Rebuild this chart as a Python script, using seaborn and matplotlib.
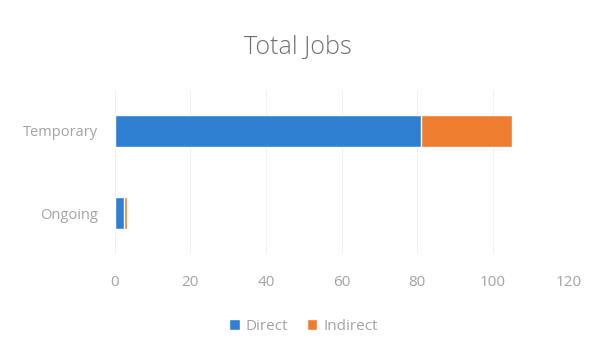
import matplotlib
matplotlib.use("Agg")
import matplotlib.pyplot as plt
import seaborn as sns
import pandas as pd

categories = ["Temporary", "Ongoing"]
direct = [81, 2.4]
indirect = [24, 0.8]
xticks = [0, 20, 40, 60, 80, 100, 120]

sns.set_style("white")
plt.rcParams['font.family'] = ['Open Sans', 'DejaVu Sans']

blue = "#2f7fd2"
orange = "#ee7d30"
grey = "#a6a6a6"

df = pd.DataFrame({"cat": categories, "direct": direct,
                   "total": [d + i for d, i in zip(direct, indirect)]})

fig = plt.figure(figsize=(5.95, 3.58), dpi=100)
ax = fig.add_axes([0.193, 0.29, 0.762, 0.459])

sns.barplot(data=df, y="cat", x="total", color=orange, width=0.39,
            orient="h", ax=ax, saturation=1, label="Indirect")
sns.barplot(data=df, y="cat", x="direct", color=blue, width=0.39,
            orient="h", ax=ax, saturation=1, label="Direct")

ax.set_xlim(0, 120)
ax.set_ylim(1.5, -0.5)
ax.set_xticks(xticks)
ax.set_xlabel("")
ax.set_ylabel("")
ax.grid(axis="x", color="#f0f0f0", linewidth=0.8)
ax.set_axisbelow(True)
for s in ax.spines.values():
    s.set_visible(False)
ax.tick_params(axis="x", colors=grey, labelsize=11, pad=15, length=0)
ax.tick_params(axis="y", colors=grey, labelsize=10.5, pad=12, length=0)
for t in ax.get_xticklabels() + ax.get_yticklabels():
    t.set_color("#a3a3a3")

fig.text(0.5, 0.868, "Total Jobs", ha="center", va="center",
         fontsize=18, color="#707070", fontweight="light")

handles, labels = ax.get_legend_handles_labels()
order = [labels.index("Direct"), labels.index("Indirect")]
leg = fig.legend([handles[i] for i in order], [labels[i] for i in order],
                 loc="center", bbox_to_anchor=(0.51, 0.088), ncol=2,
                 frameon=False, fontsize=11, handlelength=0.7,
                 handleheight=0.7, handletextpad=0.4, columnspacing=1.2)
for t in leg.get_texts():
    t.set_color("#a3a3a3")
if ax.get_legend():
    ax.get_legend().remove()

fig.savefig("out.png", dpi=100, facecolor="white")
